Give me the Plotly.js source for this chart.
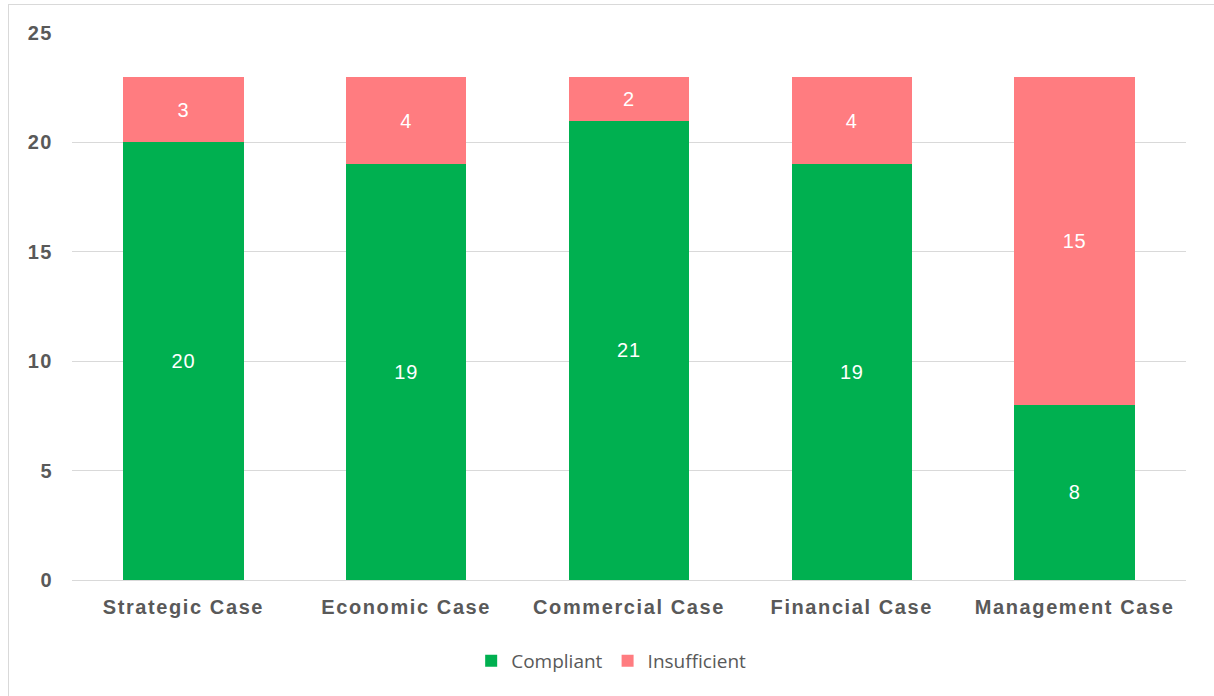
<!DOCTYPE html>
<html>
<head>
<meta charset="utf-8">
<script src="https://cdn.plot.ly/plotly-3.0.1.min.js"></script>
<style>
html,body{margin:0;padding:0;background:#fff;}
#frame{position:absolute;left:8px;top:4px;width:1220px;height:700px;border-left:1px solid #d9d9d9;border-top:1px solid #d9d9d9;pointer-events:none;}
#chart{position:absolute;left:0;top:0;width:1214px;height:696px;}
#chart .xtick text{letter-spacing:1.6px;}
#chart .ytick text{letter-spacing:1.5px;}
#chart .bartext{letter-spacing:0.8px;}
</style>
</head>
<body>
<div id="chart"></div>
<div id="frame"></div>
<script>
const categories = ["Strategic Case", "Economic Case", "Commercial Case", "Financial Case", "Management Case"];
const compliant = [20, 19, 21, 19, 8];
const insufficient = [3, 4, 2, 4, 15];
const yTicks = [0, 5, 10, 15, 20, 25];

const labelFont = {family: "Arial, Liberation Sans, sans-serif", size: 20, color: "#ffffff"};

const traces = [
  {
    type: "bar", name: "Compliant", x: categories, y: compliant,
    marker: {color: "#00B050"},
    text: compliant.map(String), textposition: "inside", insidetextanchor: "middle",
    textangle: 0, constraintext: "none", textfont: labelFont, hoverinfo: "skip"
  },
  {
    type: "bar", name: "Insufficient", x: categories, y: insufficient,
    marker: {color: "#FF7C80"},
    text: insufficient.map(String), textposition: "inside", insidetextanchor: "middle",
    textangle: 0, constraintext: "none", textfont: labelFont, hoverinfo: "skip"
  }
];

const layout = {
  width: 1214, height: 696,
  margin: {l: 72, r: 28, t: 33, b: 116},
  barmode: "stack",
  bargap: 0.46,
  paper_bgcolor: "rgba(0,0,0,0)",
  plot_bgcolor: "#ffffff",
  showlegend: true,
  legend: {
    orientation: "h", x: 0.484, xanchor: "center", y: -0.148, yanchor: "middle",
    font: {family: "Open Sans, Noto Sans, sans-serif", size: 19, color: "#595959"},
    traceorder: "normal", itemwidth: 30
  },
  xaxis: {
    type: "category",
    tickfont: {family: "Arial, Liberation Sans, sans-serif", size: 20, color: "#595959", weight: "bold"},
    showgrid: false, showline: true, linecolor: "#d9d9d9", linewidth: 1,
    ticks: "", ticklabelstandoff: 9
  },
  yaxis: {
    range: [0, 25], tickvals: yTicks, ticktext: yTicks.map(String),
    tickfont: {family: "Arial, Liberation Sans, sans-serif", size: 20, color: "#595959", weight: "bold"},
    showgrid: true, gridcolor: "#d9d9d9", gridwidth: 1,
    zeroline: false, showline: false, ticks: "", ticklabelstandoff: 18
  }
};

Plotly.newPlot("chart", traces, layout, {displayModeBar: false, staticPlot: true});
</script>
</body>
</html>
